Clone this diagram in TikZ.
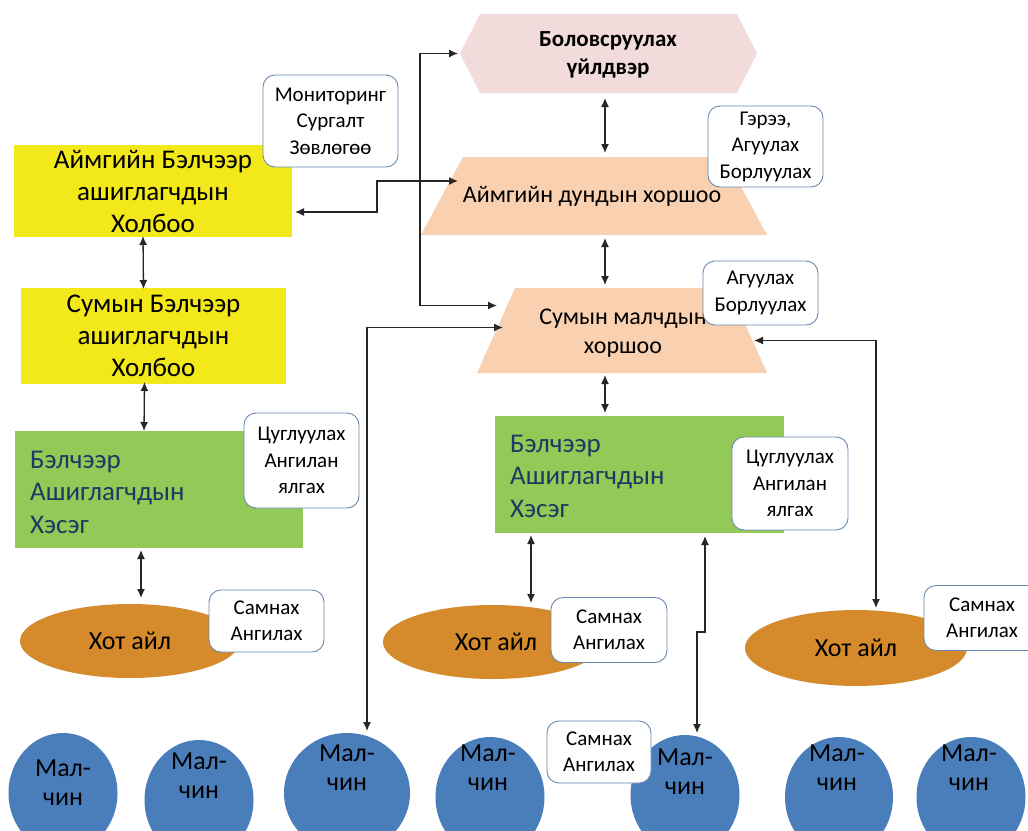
\documentclass[tikz,border=0pt]{standalone}
\usepackage{fontspec}
\setmainfont{Carlito}
\usetikzlibrary{arrows.meta,calc,shapes.geometric}
\definecolor{hexc}{HTML}{F2DCDB}
\definecolor{peachc}{HTML}{F9D0B0}
\definecolor{yellowc}{HTML}{F2E81A}
\definecolor{greenc}{HTML}{92C957}
\definecolor{navyc}{HTML}{203864}
\definecolor{hotc}{HTML}{D58B2C}
\definecolor{malc}{HTML}{4A7EBB}
\definecolor{calloutc}{HTML}{6A88B0}
\definecolor{arrowc}{HTML}{262626}
\begin{document}
\begin{tikzpicture}[x=1pt,y=-1pt,
  anchorbox/.style={inner sep=0pt,outer sep=0pt,draw=none},
  ybox/.style={anchorbox,fill=yellowc,align=center,font=\fontsize{27}{32}\selectfont},
  gbox/.style={anchorbox,fill=greenc},
  gtext/.style={inner sep=0pt,align=left,text=navyc,font=\fontsize{27}{32.5}\selectfont,anchor=west},
  trtext/.style={inner sep=0pt,align=center,font=\fontsize{24}{29}\selectfont},
  callout/.style={draw=calloutc,fill=white,rounded corners=12pt,line width=0.9pt,align=center,inner sep=0pt,outer sep=0pt,font=\fontsize{21}{26.5}\selectfont},
  hot/.style={ellipse,fill=hotc,inner sep=0pt,outer sep=0pt,font=\fontsize{26}{30}\selectfont},
  mal/.style={ellipse,fill=malc,inner sep=0pt,outer sep=0pt},
  maltext/.style={inner sep=0pt,align=center,font=\fontsize{26}{29}\selectfont},
  dbl/.style={{Latex[length=9pt,width=8pt]}-{Latex[length=9pt,width=8pt]},line width=1.3pt,draw=arrowc}
]
\useasboundingbox (0,0) rectangle (1028,830);
\clip (0,0) rectangle (1028,830);
\fill[white] (0,0) rectangle (1028,830);

% hexagon
\node[anchorbox,minimum width=297pt,minimum height=79pt] (hex) at (608.5,53.5) {};
\fill[hexc] (hex.west) -- ($(hex.north west)+(20,0)$) -- ($(hex.north east)+(-20,0)$) -- (hex.east) -- ($(hex.south east)+(-20,0)$) -- ($(hex.south west)+(20,0)$) -- cycle;
\node[inner sep=0pt,align=center,font=\bfseries\fontsize{23}{28}\selectfont] (hext) at (608,55) {Боловсруулах\\үйлдвэр};

% trapezoid 1
\node[anchorbox,minimum width=346pt,minimum height=78pt] (ahs) at (594,196) {};
\fill[peachc] (ahs.south west) -- (ahs.south east) -- ($(ahs.north east)+(-42,0)$) -- ($(ahs.north west)+(42,0)$) -- cycle;
\node[trtext] (ahst) at (592,196) {Аймгийн дундын хоршоо};

% trapezoid 2
\node[anchorbox,minimum width=290pt,minimum height=85pt] (smh) at (622,330.5) {};
\fill[peachc] (smh.south west) -- (smh.south east) -- ($(smh.north east)+(-38,0)$) -- ($(smh.north west)+(38,0)$) -- cycle;
\node[trtext] (smht) at (623,333) {Сумын малчдын\\хоршоо};

% yellow boxes
\node[ybox,minimum width=278pt,minimum height=92pt] (y1) at (153,191) {Аймгийн Бэлчээр\\ашиглагчдын\\Холбоо};
\node[ybox,minimum width=265pt,minimum height=96pt] (y2) at (153.5,336) {Сумын Бэлчээр\\ашиглагчдын\\Холбоо};

% green boxes
\node[gbox,minimum width=288pt,minimum height=117pt] (g1) at (159,489.5) {};
\node[gtext] (g1t) at (30,492) {Бэлчээр\\Ашиглагчдын\\Хэсэг};
\node[gbox,minimum width=289pt,minimum height=117pt] (g2) at (639.5,474.5) {};
\node[gtext] (g2t) at (510,476) {Бэлчээр\\Ашиглагчдын\\Хэсэг};

% hot ail
\node[hot,minimum width=220pt,minimum height=74pt] (hot1) at (130,641) {Хот айл};
\node[hot,minimum width=220pt,minimum height=74pt] (hot2) at (493,642) {};
\node[inner sep=0pt,font=\fontsize{26}{30}\selectfont] (hot2t) at (496,642) {Хот айл};
\node[hot,minimum width=222pt,minimum height=76pt] (hot3) at (856,648) {Хот айл};

% malchin
\node[mal,minimum width=109pt,minimum height=120pt] (mal1) at (63,793) {};
\node[maltext] (mal1t) at (63,783) {Мал-\\чин};
\node[mal,minimum width=109pt,minimum height=120pt] (mal2) at (199,800) {};
\node[maltext] (mal2t) at (199,776) {Мал-\\чин};
\node[mal,minimum width=126pt,minimum height=120pt] (mal3) at (347,793) {};
\node[maltext] (mal3t) at (347,768) {Мал-\\чин};
\node[mal,minimum width=109pt,minimum height=120pt] (mal4) at (490,797) {};
\node[maltext] (mal4t) at (488,768) {Мал-\\чин};
\node[mal,minimum width=109pt,minimum height=120pt] (mal5) at (685,795) {};
\node[maltext] (mal5t) at (685,772) {Мал-\\чин};
\node[mal,minimum width=108pt,minimum height=120pt] (mal6) at (839,797) {};
\node[maltext] (mal6t) at (837,768) {Мал-\\чин};
\node[mal,minimum width=109pt,minimum height=120pt] (mal7) at (971,797) {};
\node[maltext] (mal7t) at (969,768) {Мал-\\чин};

% callouts
\node[callout,minimum width=135pt,minimum height=92pt] (cmon) at (330.5,121) {Мониторинг\\Сургалт\\Зөвлөгөө};
\node[callout,minimum width=115pt,minimum height=81pt] (cger) at (765.5,146.5) {Гэрээ,\\Агуулах\\Борлуулах};
\node[callout,minimum width=115pt,minimum height=64pt] (cag) at (760.5,293) {Агуулах\\Борлуулах};
\node[callout,minimum width=115pt,minimum height=95pt] (ccug1) at (301.5,460.5) {Цуглуулах\\Ангилан\\ялгах};
\node[callout,minimum width=116pt,minimum height=93pt] (ccug2) at (790,483.5) {Цуглуулах\\Ангилан\\ялгах};
\node[callout,minimum width=115pt,minimum height=62pt] (csam1) at (266.5,621) {Самнах\\Ангилах};
\node[callout,minimum width=116pt,minimum height=65pt] (csam2) at (609,630) {Самнах\\Ангилах};
\node[callout,minimum width=116pt,minimum height=65pt] (csam3) at (982,618) {Самнах\\Ангилах};
\node[callout,minimum width=104pt,minimum height=62pt] (csam4) at (599,752) {Самнах\\Ангилах};

% connectors
\draw[dbl] ([xshift=-3.5pt,yshift=-5pt]hex.south) -- ([xshift=11pt,yshift=4pt]ahs.north);
\draw[dbl] ([xshift=11pt,yshift=-3pt]ahs.south) -- ([xshift=-17pt,yshift=3pt]smh.north);
\draw[dbl] ([xshift=-17pt,yshift=-2pt]smh.south) -- ([xshift=-34.5pt,yshift=3pt]g2.north);
\draw[dbl] ($(y1.east)+(3,21)$) -- ++(82,0) |- ($(ahs.west)+(37,-15)$);
\draw[dbl] ($(hex.west)+(-2,0)$) -- ++(-38,0) |- ($(smh.west)+(20,-25)$);
\draw[dbl] ($(mal3.north)+(20,-2)$) |- ($(smh.west)+(26,-3)$);
\draw[dbl] ($(smh.east)+(-13,10)$) -| ($(hot3.north)+(20,-2)$);
\draw[dbl] ($(g1.south)+(-18,2)$) -- ($(hot1.north)+(11,-6)$);
\draw[dbl] ($(y1.south)+(-10,-1)$) -- ($(y2.north)+(-10,1)$);
\draw[dbl] ($(y2.south)+(-9,-2)$) -- ($(g1.north)+(-15,0)$);
\draw[dbl] ($(g2.south)+(-108.5,2)$) -- ++(0,39) -| ($(hot2.north)+(38,-2)$);
\draw[dbl] ($(g2.south)+(65.5,3)$) -- ++(0,96) -| ($(mal5.north)+(12,-2)$);
\end{tikzpicture}
\end{document}
